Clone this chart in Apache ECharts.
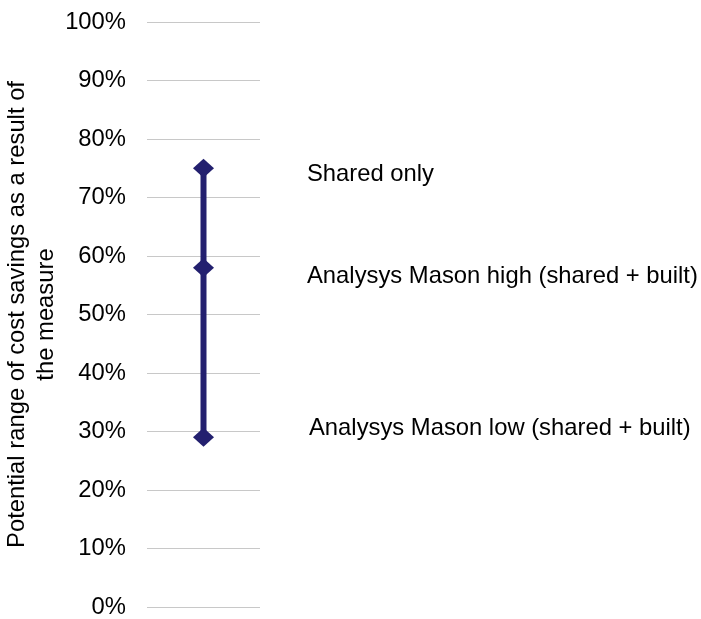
<!DOCTYPE html>
<html>
<head>
<meta charset="utf-8">
<script src="https://cdn.jsdelivr.net/npm/echarts@6/dist/echarts.min.js"></script>
<style>
html,body{margin:0;padding:0;background:#fff;}
#chart{width:701px;height:619px;}
</style>
</head>
<body>
<div id="chart"></div>
<script>
const categories = ['Measure'];
const pointNames = ['Shared only', 'Analysys Mason high (shared + built)', 'Analysys Mason low (shared + built)'];
const pointValues = [75, 58, 29];
const yTicks = [0, 10, 20, 30, 40, 50, 60, 70, 80, 90, 100];
const yAxisTitle = 'Potential range of cost savings as a result of\nthe measure';

// label layout (styling, kept separate from the data)
const labelOffsets = [[93, 6], [93, 9], [95, -9]];

const FONT = "'Liberation Sans', Arial, sans-serif";
const NAVY = '#23206F';
const FS = 23.8;

const chart = echarts.init(document.getElementById('chart'), null, {renderer: 'canvas'});
chart.setOption({
  animation: false,
  backgroundColor: '#fff',
  grid: {left: 147, right: 441, top: 22, bottom: 12, containLabel: false},
  xAxis: {
    type: 'category',
    data: categories,
    boundaryGap: true,
    axisLine: {show: false},
    axisTick: {show: false},
    axisLabel: {show: false},
    splitLine: {show: false}
  },
  yAxis: {
    type: 'value',
    min: yTicks[0],
    max: yTicks[yTicks.length - 1],
    interval: 10,
    axisLine: {show: false},
    axisTick: {show: false},
    axisLabel: {
      formatter: v => v + '%',
      color: '#000',
      fontSize: FS,
      fontFamily: FONT,
      margin: 21
    },
    splitLine: {lineStyle: {color: '#C8C8C8', width: 1}},
    name: yAxisTitle,
    nameLocation: 'middle',
    nameRotate: 90,
    nameGap: 84,
    nameTextStyle: {color: '#000', fontSize: FS, fontFamily: FONT, lineHeight: 29}
  },
  series: [{
    type: 'line',
    data: pointValues.map((v, i) => ({
      name: pointNames[i],
      value: [categories[0], v],
      label: {offset: labelOffsets[i]}
    })),
    symbol: 'diamond',
    symbolSize: [21, 19],
    lineStyle: {color: NAVY, width: 6},
    itemStyle: {color: NAVY},
    label: {
      show: true,
      position: 'right',
      distance: 0,
      formatter: p => p.name,
      color: '#000',
      fontSize: FS,
      fontFamily: FONT
    }
  }]
});
</script>
</body>
</html>
